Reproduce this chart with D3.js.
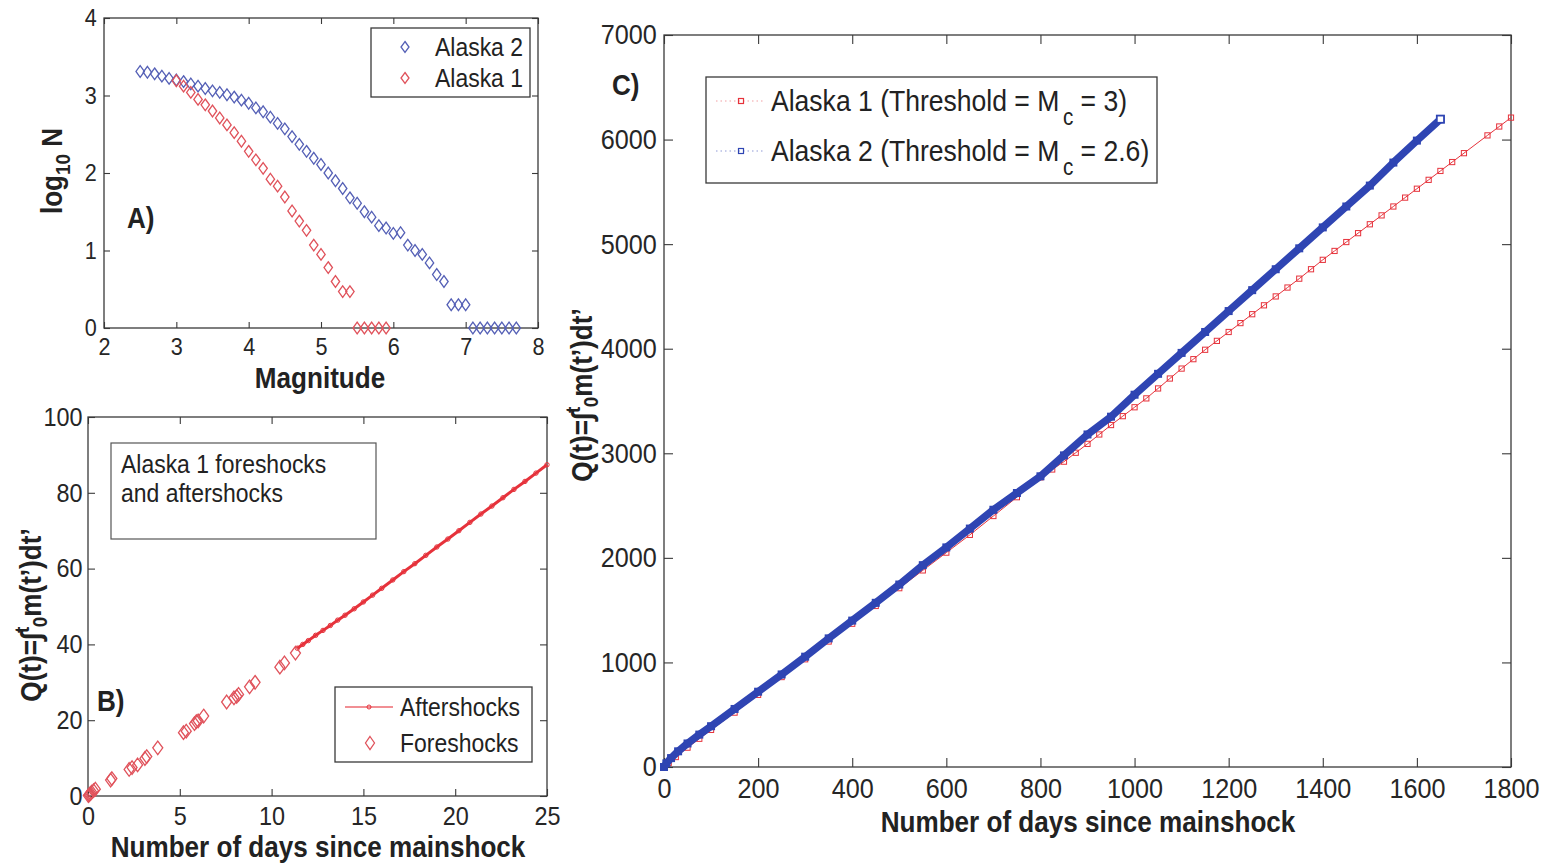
<!DOCTYPE html>
<html>
<head>
<meta charset="utf-8">
<script src="https://cdn.jsdelivr.net/npm/d3@7"></script>
<style>
  body { margin: 0; background: #fff; }
  svg { display: block; }
</style>
</head>
<body>
<svg id="fig" width="1558" height="863"></svg>
<script>
// ---------- Panel A: frequency–magnitude ----------
const magAlaska2 = [2.5,2.6,2.7,2.8,2.9,3.0,3.1,3.2,3.3,3.4,3.5,3.6,3.7,3.8,3.9,4.0,4.1,4.2,4.3,4.4,4.5,4.6,4.7,4.8,4.9,
  5.0,5.1,5.2,5.3,5.4,5.5,5.6,5.7,5.8,5.9,6.0,6.1,6.2,6.3,6.4,6.5,6.6,6.7,6.8,6.9,7.0,7.1,7.2,7.3,7.4,7.5,7.6,7.7];
const logNAlaska2 = [3.31,3.30,3.28,3.25,3.22,3.20,3.18,3.15,3.12,3.09,3.06,3.04,3.01,2.98,2.94,2.90,2.84,2.79,2.72,2.64,2.57,2.47,2.37,2.28,2.19,
  2.11,2.00,1.90,1.80,1.68,1.61,1.50,1.43,1.32,1.29,1.22,1.23,1.07,1.00,0.95,0.84,0.69,0.60,0.30,0.30,0.30,0,0,0,0,0,0,0];
const magAlaska1 = [3.0,3.1,3.2,3.3,3.4,3.5,3.6,3.7,3.8,3.9,4.0,4.1,4.2,4.3,4.4,4.5,4.6,4.7,4.8,4.9,5.0,5.1,5.2,5.3,5.4,5.5,5.6,5.7,5.8,5.9];
const logNAlaska1 = [3.19,3.12,3.04,2.95,2.88,2.80,2.71,2.62,2.52,2.41,2.28,2.17,2.06,1.92,1.83,1.69,1.51,1.38,1.26,1.07,0.95,0.78,0.60,0.47,0.47,0,0,0,0,0];
const magTicks = [2,3,4,5,6,7,8];
const logTicks = [0,1,2,3,4];

// ---------- Panel B: Alaska 1 foreshocks and aftershocks ----------
const foreDays = [0.02,0.06,0.1,0.15,0.2,0.3,0.4,1.23,1.3,2.24,2.4,2.7,3.1,3.2,3.8,5.2,5.35,5.8,5.9,6.0,6.3,7.55,7.95,8.1,8.2,8.8,9.1,10.45,10.7,11.3];
const foreQ    = [0.1,0.3,0.5,0.7,1.0,1.4,1.8,4.2,4.6,7.0,7.5,8.2,9.9,10.4,12.7,16.7,17.1,19.1,19.6,19.8,21.1,24.8,25.9,26.3,26.8,28.8,30.0,34.0,35.1,37.7];
const afterDays = [11.4,11.7,12.0,12.4,12.8,13.2,13.6,14.0,14.5,15.0,15.5,16.0,16.6,17.2,17.8,18.4,19.0,19.6,20.2,20.8,21.4,22.0,22.6,23.2,23.8,24.4,25.0];
const afterQ    = [39.0,40.0,41.0,42.4,43.7,45.0,46.4,47.7,49.4,51.2,53.0,54.8,57.0,59.2,61.3,63.5,65.7,67.8,70.0,72.2,74.4,76.5,78.7,80.9,83.0,85.2,87.4];
const dayTicksB = [0,5,10,15,20,25];
const qTicksB = [0,20,40,60,80,100];

// ---------- Panel C: Q(t) for the two catalogues ----------
const daysAlaska1 = [0,10,25,50,75,100,150,200,250,300,350,400,450,500,550,600,650,700,750,800,
  825,850,875,900,925,950,975,1000,1025,1050,1075,1100,1125,1150,1175,1200,1225,1250,1275,1300,
  1325,1350,1375,1400,1425,1450,1475,1500,1525,1550,1575,1600,1625,1650,1675,1700,1750,1775,1800];
const qAlaska1 = [0,40,95,185,270,355,520,690,860,1030,1200,1370,1540,1710,1880,2050,2220,2400,2580,2770,
  2845,2920,3005,3090,3180,3270,3355,3440,3525,3620,3715,3810,3900,3990,4075,4160,4245,4330,4415,4500,
  4585,4670,4760,4850,4935,5020,5105,5190,5275,5360,5445,5530,5615,5700,5785,5870,6040,6125,6210];
const daysAlaska2 = [0,5,15,30,50,75,100,150,200,250,300,350,400,450,500,550,600,650,700,750,800,
  850,900,950,1000,1050,1100,1150,1200,1250,1300,1350,1400,1450,1500,1550,1600,1650];
const qAlaska2 = [0,35,85,150,225,310,390,555,720,885,1055,1230,1400,1570,1745,1930,2100,2280,2460,2620,2780,
  2980,3180,3350,3560,3760,3960,4160,4360,4560,4760,4960,5160,5360,5560,5780,5990,6195];
const dayTicksC = [0,200,400,600,800,1000,1200,1400,1600,1800];
const qTicksC = [0,1000,2000,3000,4000,5000,6000,7000];

// ---------- drawing ----------
const svg = d3.select('#fig');
const FONT = '"Liberation Sans", Arial, Helvetica, sans-serif';
const SX = 0.9;               // slightly narrow glyphs
const AX = '#3a3a3a';
const RED_A = '#e0525b', BLUE_A = '#5560b6';
const RED = '#e6323b', BLUE = '#2f45b3';

svg.append('rect').attr('width', 1558).attr('height', 863).attr('fill', '#fff');

function label(g, x, y, str, fs, opts = {}) {
  const rot = opts.rotate ? ' rotate(-90)' : '';
  return g.append('text')
    .attr('transform', `translate(${x},${y})${rot} scale(${SX},1)`)
    .attr('font-family', FONT)
    .attr('font-size', fs)
    .attr('font-weight', opts.bold ? 'bold' : 'normal')
    .attr('text-anchor', opts.anchor || 'start')
    .attr('fill', '#222')
    .text(str);
}

function styleAxis(sel, fs) {
  sel.select('.domain').remove();
  sel.selectAll('.tick line').attr('stroke', AX).attr('stroke-width', 1.1);
  sel.selectAll('.tick text')
    .attr('font-family', FONT).attr('font-size', fs).attr('fill', '#262626')
    .attr('transform', `scale(${SX},1)`);
}

function makePanel(cfg) {
  const x = d3.scaleLinear().domain(cfg.xDomain).range(cfg.xRange);
  const y = d3.scaleLinear().domain(cfg.yDomain).range(cfg.yRange);
  const g = svg.append('g');
  const [x0, x1] = cfg.xRange, [y0, y1] = cfg.yRange; // y0 bottom, y1 top
  g.append('g').attr('transform', `translate(0,${y0})`)
    .call(d3.axisBottom(x).tickValues(cfg.xTicks).tickSizeInner(-cfg.tick).tickSizeOuter(0)
      .tickPadding(cfg.padX).tickFormat(d3.format('d')))
    .call(s => styleAxis(s, cfg.fs));
  g.append('g').attr('transform', `translate(0,${y1})`)
    .call(d3.axisTop(x).tickValues(cfg.xTicks).tickSizeInner(-cfg.tick).tickSizeOuter(0).tickFormat(''))
    .call(s => styleAxis(s, cfg.fs));
  g.append('g').attr('transform', `translate(${x0},0)`)
    .call(d3.axisLeft(y).tickValues(cfg.yTicks).tickSizeInner(-cfg.tick).tickSizeOuter(0)
      .tickPadding(cfg.padY).tickFormat(d3.format('d')))
    .call(s => styleAxis(s, cfg.fs));
  g.append('g').attr('transform', `translate(${x1},0)`)
    .call(d3.axisRight(y).tickValues(cfg.yTicks).tickSizeInner(-cfg.tick).tickSizeOuter(0).tickFormat(''))
    .call(s => styleAxis(s, cfg.fs));
  g.append('rect').attr('x', x0).attr('y', y1).attr('width', x1 - x0).attr('height', y0 - y1)
    .attr('fill', 'none').attr('stroke', AX).attr('stroke-width', 1.3);
  const plot = g.append('g');
  return { x, y, g, plot };
}

const diamond = (hw, hh) => `M0,${-hh}L${hw},0L0,${hh}L${-hw},0Z`;

function qLabel(g, x, y, fs) {
  const t = g.append('text')
    .attr('transform', `translate(${x},${y}) rotate(-90) scale(${SX},1)`)
    .attr('font-family', FONT).attr('font-size', fs).attr('font-weight', 'bold')
    .attr('text-anchor', 'middle').attr('fill', '#222');
  t.append('tspan').text('Q(t)=\u222B');
  t.append('tspan').attr('font-size', fs * 0.72).attr('dy', -fs * 0.42).text('t');
  t.append('tspan').attr('font-size', fs * 0.72).attr('dy', fs * 0.62).attr('dx', -fs * 0.02).text('0');
  t.append('tspan').attr('dy', -fs * 0.2).text('m(t\u2019)dt\u2019');
}

// ===== Panel A =====
const A = makePanel({ xDomain: [2, 8], xRange: [104, 538], yDomain: [0, 4], yRange: [328, 18],
  xTicks: magTicks, yTicks: logTicks, tick: 6, fs: 24, padX: 10, padY: 8 });
A.plot.selectAll('.a2').data(magAlaska2).join('path')
  .attr('transform', (d, i) => `translate(${A.x(d)},${A.y(logNAlaska2[i])})`)
  .attr('d', diamond(4.2, 5.8)).attr('fill', 'none').attr('stroke', BLUE_A).attr('stroke-width', 1.3);
A.plot.selectAll('.a1').data(magAlaska1).join('path')
  .attr('transform', (d, i) => `translate(${A.x(d)},${A.y(logNAlaska1[i])})`)
  .attr('d', diamond(4.2, 5.8)).attr('fill', 'none').attr('stroke', RED_A).attr('stroke-width', 1.3);

// legend A
A.g.append('rect').attr('x', 371).attr('y', 28).attr('width', 159).attr('height', 69)
  .attr('fill', '#fff').attr('stroke', AX).attr('stroke-width', 1.3);
A.g.append('path').attr('transform', 'translate(405,47)').attr('d', diamond(4, 5.5))
  .attr('fill', 'none').attr('stroke', BLUE_A).attr('stroke-width', 1.3);
A.g.append('path').attr('transform', 'translate(405,78)').attr('d', diamond(4, 5.5))
  .attr('fill', 'none').attr('stroke', RED_A).attr('stroke-width', 1.3);
label(A.g, 435, 56, 'Alaska 2', 25.5);
label(A.g, 435, 87, 'Alaska 1', 25.5);

label(A.g, 127, 228, 'A)', 29, { bold: true });
label(A.g, 320, 388, 'Magnitude', 29, { bold: true, anchor: 'middle' });
{
  const t = A.g.append('text')
    .attr('transform', `translate(62,171) rotate(-90) scale(${SX},1)`)
    .attr('font-family', FONT).attr('font-size', 29).attr('font-weight', 'bold')
    .attr('text-anchor', 'middle').attr('fill', '#222');
  t.append('tspan').text('log');
  t.append('tspan').attr('font-size', 21).attr('dy', 8).text('10');
  t.append('tspan').attr('dy', -8).text(' N');
}

// ===== Panel B =====
const B = makePanel({ xDomain: [0, 25], xRange: [88, 547], yDomain: [0, 100], yRange: [796, 417],
  xTicks: dayTicksB, yTicks: qTicksB, tick: 7, fs: 26, padX: 11, padY: 6 });
const afterLine = d3.line().x((d, i) => B.x(d)).y((d, i) => B.y(afterQ[i]));
B.plot.append('path').datum(afterDays).attr('d', afterLine)
  .attr('fill', 'none').attr('stroke', RED).attr('stroke-width', 3);
B.plot.selectAll('.af').data(afterDays).join('circle')
  .attr('cx', d => B.x(d)).attr('cy', (d, i) => B.y(afterQ[i])).attr('r', 2.2)
  .attr('fill', 'none').attr('stroke', RED).attr('stroke-width', 1);
B.plot.selectAll('.fs').data(foreDays).join('path')
  .attr('transform', (d, i) => `translate(${B.x(d)},${B.y(foreQ[i])})`)
  .attr('d', diamond(5, 6.8)).attr('fill', 'none').attr('stroke', RED_A).attr('stroke-width', 1.3);

// annotation box
B.g.append('rect').attr('x', 111).attr('y', 443).attr('width', 265).attr('height', 96)
  .attr('fill', 'none').attr('stroke', '#555').attr('stroke-width', 1.2);
label(B.g, 121, 473, 'Alaska 1 foreshocks', 25.5);
label(B.g, 121, 502, 'and aftershocks', 25.5);

// legend B
B.g.append('rect').attr('x', 335).attr('y', 687).attr('width', 197).attr('height', 75)
  .attr('fill', '#fff').attr('stroke', AX).attr('stroke-width', 1.3);
B.g.append('line').attr('x1', 345).attr('x2', 393).attr('y1', 707).attr('y2', 707)
  .attr('stroke', '#ec6a70').attr('stroke-width', 1.6);
B.g.append('circle').attr('cx', 369).attr('cy', 707).attr('r', 2)
  .attr('fill', 'none').attr('stroke', RED).attr('stroke-width', 1);
B.g.append('path').attr('transform', 'translate(370,743)').attr('d', diamond(4.5, 6.5))
  .attr('fill', 'none').attr('stroke', RED_A).attr('stroke-width', 1.3);
label(B.g, 400, 716, 'Aftershocks', 25.5);
label(B.g, 400, 752, 'Foreshocks', 25.5);

label(B.g, 97, 711, 'B)', 29, { bold: true });
label(B.g, 318, 857, 'Number of days since mainshock', 29, { bold: true, anchor: 'middle' });
qLabel(B.g, 41, 615, 29);

// ===== Panel C =====
const C = makePanel({ xDomain: [0, 1800], xRange: [664, 1511], yDomain: [0, 7000], yRange: [767, 35],
  xTicks: dayTicksC, yTicks: qTicksC, tick: 9, fs: 28, padX: 11, padY: 8 });
const lineC = (days, q) => d3.line().x((d, i) => C.x(d)).y((d, i) => C.y(q[i]))(days);

// Alaska 1 (red) underneath
C.plot.append('path').attr('d', lineC(daysAlaska1, qAlaska1))
  .attr('fill', 'none').attr('stroke', RED).attr('stroke-width', 1);
C.plot.selectAll('.c1').data(daysAlaska1).join('rect')
  .attr('x', d => C.x(d) - 2.6).attr('y', (d, i) => C.y(qAlaska1[i]) - 2.6)
  .attr('width', 5.2).attr('height', 5.2)
  .attr('fill', 'none').attr('stroke', RED).attr('stroke-width', 1);

// Alaska 2 (blue) on top — dense markers form a thick band
C.plot.append('path').attr('d', lineC(daysAlaska2, qAlaska2))
  .attr('fill', 'none').attr('stroke', BLUE).attr('stroke-width', 7.5)
  .attr('stroke-linejoin', 'round').attr('stroke-linecap', 'round');
C.plot.selectAll('.c2').data(daysAlaska2).join('rect')
  .attr('x', d => C.x(d) - 3.3).attr('y', (d, i) => C.y(qAlaska2[i]) - 3.3)
  .attr('width', 6.6).attr('height', 6.6)
  .attr('fill', BLUE).attr('stroke', BLUE).attr('stroke-width', 1.4);
// end marker of the band stays hollow
C.plot.append('rect')
  .attr('x', C.x(daysAlaska2[daysAlaska2.length - 1]) - 3.6)
  .attr('y', C.y(qAlaska2[qAlaska2.length - 1]) - 3.6)
  .attr('width', 7.2).attr('height', 7.2)
  .attr('fill', '#fff').attr('stroke', BLUE).attr('stroke-width', 1.8);

// legend C
C.g.append('rect').attr('x', 706).attr('y', 77).attr('width', 451).attr('height', 106)
  .attr('fill', '#fff').attr('stroke', AX).attr('stroke-width', 1.3);
[[101, RED, '#f2a0a4'], [151, BLUE, '#8f9ad6']].forEach(([yy, c, lc]) => {
  C.g.append('line').attr('x1', 716).attr('x2', 764).attr('y1', yy).attr('y2', yy)
    .attr('stroke', lc).attr('stroke-width', 1.2).attr('stroke-dasharray', '1.5,3');
  C.g.append('rect').attr('x', 738.5).attr('y', yy - 2.5).attr('width', 5).attr('height', 5)
    .attr('fill', 'none').attr('stroke', c).attr('stroke-width', 1.2);
});
function legendC(y, tail) {
  const t = label(C.g, 771, y, 'Alaska ' + tail[0] + ' (Threshold = M', 29.5);
  t.append('tspan').attr('font-size', 23).attr('dy', 14).attr('dx', 4).text('c');
  t.append('tspan').attr('dy', -14).text(' = ' + tail[1] + ')');
}
legendC(111, ['1', '3']);
legendC(161, ['2', '2.6']);

label(C.g, 612, 95, 'C)', 29, { bold: true });
label(C.g, 1088, 832, 'Number of days since mainshock', 29, { bold: true, anchor: 'middle' });
qLabel(C.g, 592, 395, 29);
</script>
</body>
</html>
